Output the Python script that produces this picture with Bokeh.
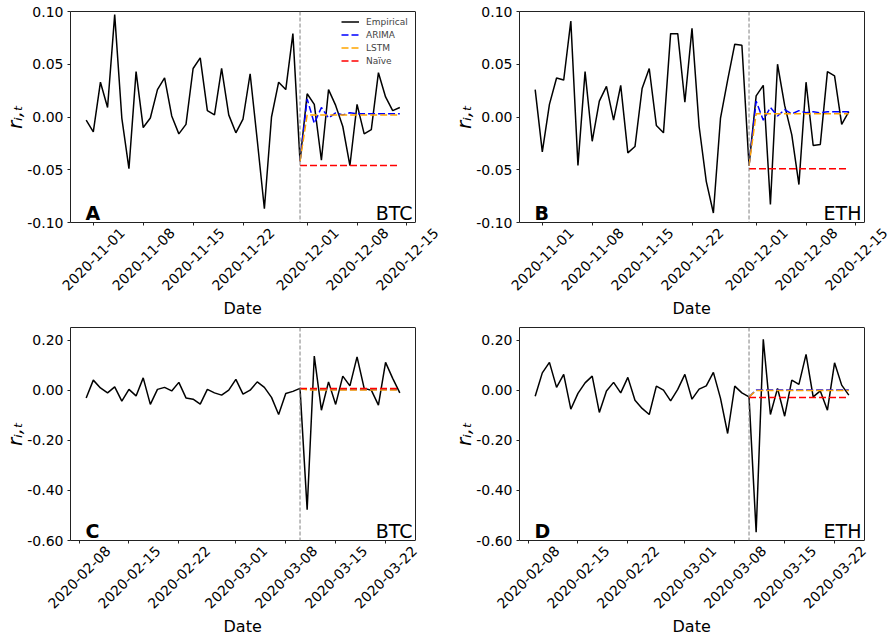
import math
import pandas as pd
from bokeh.plotting import figure
from bokeh.models import (FixedTicker, NumeralTickFormatter, DatetimeTickFormatter, Span,
                          Label, Range1d, DatetimeAxis, Title)
from bokeh.layouts import column, row
from bokeh.embed import file_html
from bokeh.resources import INLINE

FONT = "DejaVu Sans"
EDGE = "#222222"

# ---------------- data ----------------
ab_start, ab_split, ab_end = "2020-10-31", "2020-11-30", "2020-12-14"
cd_start, cd_split, cd_end = "2020-02-09", "2020-03-10", "2020-03-24"

ab_ticks = ["2020-11-01", "2020-11-08", "2020-11-15", "2020-11-22",
            "2020-12-01", "2020-12-08", "2020-12-15"]
cd_ticks = ["2020-02-08", "2020-02-15", "2020-02-22", "2020-03-01",
            "2020-03-08", "2020-03-15", "2020-03-22"]

ab_yticks = [-0.10, -0.05, 0.00, 0.05, 0.10]
cd_yticks = [-0.60, -0.40, -0.20, 0.00, 0.20]

btc_nov = [-0.003, -0.014, 0.033, 0.009, 0.097, -0.001, -0.049, 0.043, -0.010, -0.001,
           0.026, 0.037, 0.001, -0.016, -0.007, 0.046, 0.056, 0.006, 0.002, 0.046,
           0.002, -0.015, -0.002, 0.041, -0.022, -0.087, 0.000, 0.033, 0.026, 0.079,
           -0.042,
           0.022, 0.012, -0.041, 0.026, 0.011, -0.009, -0.046, 0.012, -0.016, -0.012,
           0.042, 0.019, 0.006, 0.009]
btc_nov_arima = [-0.042, 0.017, -0.006, 0.009, -0.001, 0.004, 0.002, 0.004, 0.003, 0.003,
                 0.003, 0.003, 0.003, 0.003, 0.003]
btc_nov_lstm = [-0.042, 0.002, 0.002, 0.002, 0.002, 0.002, 0.002, 0.002, 0.002, 0.002,
                0.002, 0.002, 0.002, 0.002, 0.002]
btc_nov_naive = [-0.046, -0.046, -0.046, -0.046, -0.046, -0.046, -0.046, -0.046, -0.046,
                 -0.046, -0.046, -0.046, -0.046, -0.046, -0.046]

eth_nov = [0.026, -0.033, 0.012, 0.037, 0.035, 0.091, -0.046, 0.043, -0.023, 0.015,
           0.029, -0.003, 0.030, -0.034, -0.028, 0.027, 0.046, -0.008, -0.015, 0.079,
           0.079, 0.014, 0.084, -0.009, -0.061, -0.091, -0.001, 0.035, 0.069, 0.068,
           -0.046,
           0.020, 0.030, -0.083, 0.050, 0.011, -0.017, -0.064, 0.033, -0.027, -0.026,
           0.043, 0.039, -0.007, 0.005]
eth_nov_arima = [-0.046, 0.015, -0.003, 0.009, 0.001, 0.007, 0.003, 0.006, 0.004, 0.005,
                 0.004, 0.005, 0.005, 0.005, 0.005]
eth_nov_lstm = [-0.046, 0.003, 0.003, 0.003, 0.003, 0.003, 0.003, 0.003, 0.003, 0.003,
                0.003, 0.003, 0.003, 0.003, 0.003]
eth_nov_naive = [-0.049, -0.049, -0.049, -0.049, -0.049, -0.049, -0.049, -0.049, -0.049,
                 -0.049, -0.049, -0.049, -0.049, -0.049, -0.049]

btc_mar = [-0.031, 0.040, 0.009, -0.011, 0.013, -0.044, 0.003, -0.023, 0.049, -0.057,
           0.003, 0.011, -0.003, 0.031, -0.031, -0.036, -0.056, 0.003, -0.011, -0.020,
           0.000, 0.043, -0.016, 0.000, 0.033, 0.011, -0.029, -0.097, -0.013, -0.005,
           0.007,
           -0.477, 0.136, -0.080, 0.033, -0.057, 0.056, 0.017, 0.133, 0.007, 0.000,
           -0.060, 0.111, 0.047, -0.011]
btc_mar_arima = [0.007, 0.003, 0.003, 0.003, 0.003, 0.003, 0.003, 0.003, 0.003, 0.003,
                 0.003, 0.003, 0.003, 0.003, 0.003]
btc_mar_lstm = [0.007, 0.001, 0.001, 0.001, 0.001, 0.001, 0.001, 0.001, 0.001, 0.001,
                0.001, 0.001, 0.001, 0.001, 0.001]
btc_mar_naive = [0.007, 0.007, 0.007, 0.007, 0.007, 0.007, 0.007, 0.007, 0.007, 0.007,
                 0.007, 0.007, 0.007, 0.007, 0.007]

eth_mar = [-0.024, 0.069, 0.111, 0.011, 0.063, -0.076, -0.013, 0.029, 0.056, -0.089,
           -0.003, 0.031, -0.011, 0.051, -0.040, -0.073, -0.097, 0.016, 0.000, -0.043,
           0.003, 0.063, -0.036, 0.004, 0.017, 0.071, -0.033, -0.173, 0.016, -0.011,
           -0.027,
           -0.567, 0.203, -0.097, 0.007, -0.104, 0.040, 0.023, 0.143, -0.027, -0.003,
           -0.080, 0.109, 0.020, -0.020]
eth_mar_arima = [-0.027, 0.001, 0.001, 0.001, 0.001, 0.001, 0.001, 0.001, 0.001, 0.001,
                 0.001, 0.001, 0.001, 0.001, 0.001]
eth_mar_lstm = [-0.027, -0.001, -0.001, -0.001, -0.001, -0.001, -0.001, -0.001, -0.001,
                -0.001, -0.001, -0.001, -0.001, -0.001, -0.001]
eth_mar_naive = [-0.029, -0.029, -0.029, -0.029, -0.029, -0.029, -0.029, -0.029, -0.029,
                 -0.029, -0.029, -0.029, -0.029, -0.029, -0.029]

series_names = ["Empirical", "ARIMA", "LSTM", "Naïve"]
series_colors = ["black", "blue", "orange", "red"]

BOX_W = 345        # width of the drawn axes box (px)
LABEL_SHIFT = 29   # right-anchored rotated labels -> centred under their ticks
DATE_TITLE_OFFSET = 153   # "Date" centred under the box
DATE_FMT = "%Y-%m-%d"


def ms(s):
    return pd.Timestamp(s).value // 10**6


def hidden_labels(ax):
    ax.major_label_text_font_size = "0px"
    ax.major_label_text_alpha = 0
    ax.major_label_standoff = 0


def panel(start, split, end, emp, arima, lstm, naive, ticks, yticks, yr,
          letter, coin, legend, width, height, bl, bt, bb):
    dates = pd.date_range(start, end, freq="D")
    fdates = pd.date_range(split, end, freq="D")
    s, e = ms(start), ms(end)
    pad = 0.05 * (e - s)
    x0, x1 = s - pad, e + pad                 # limits of the drawn box
    mpp = (x1 - x0) / BOX_W                   # ms per pixel
    fw = width - bl                           # frame runs to the right edge
    tick_ms = [ms(t) for t in ticks]

    p = figure(width=width, height=height, x_axis_type="datetime",
               x_range=Range1d(x0, x0 + fw * mpp), y_range=Range1d(*yr),
               output_backend="svg", toolbar_location=None,
               min_border_left=bl, min_border_right=0,
               min_border_top=bt, min_border_bottom=bb,
               background_fill_color="white", border_fill_color="white")
    p.extra_x_ranges = {"lab": Range1d(x0 - LABEL_SHIFT * mpp,
                                       x0 - LABEL_SHIFT * mpp + fw * mpp)}
    p.xgrid.visible = False
    p.ygrid.visible = False
    p.outline_line_color = None

    def lg(i):
        return {"legend_label": series_names[i]} if legend else {}

    p.line(dates, emp, color=series_colors[0], line_width=1.5, **lg(0))
    p.line(fdates, arima, color=series_colors[1], line_width=1.5, line_dash="7 3", **lg(1))
    p.line(fdates, lstm, color=series_colors[2], line_width=1.5, line_dash="7 3", **lg(2))
    p.line(fdates, naive, color=series_colors[3], line_width=1.5, line_dash="7 3", **lg(3))

    p.add_layout(Span(location=ms(split), dimension="height", line_color="gray",
                      line_dash="4 2", line_width=1))
    # right edge of the axes box
    p.add_layout(Span(location=x1, dimension="height", line_color=EDGE, line_width=1))

    p.add_layout(Label(x=x0, x_offset=15, y=10, y_units="screen", text=letter,
                       text_font=FONT, text_font_style="bold", text_font_size="19px",
                       text_color="black", text_baseline="alphabetic", text_align="left"))
    p.add_layout(Label(x=x1, x_offset=-3, y=10, y_units="screen", text=coin,
                       text_font=FONT, text_font_size="19px", text_color="black",
                       text_baseline="alphabetic", text_align="right"))

    # bottom axis 1: box edge + tick marks
    ax1 = p.xaxis[0]
    ax1.bounds = (x0, x1)
    ax1.ticker = FixedTicker(ticks=tick_ms)
    ax1.axis_line_color = EDGE
    ax1.major_tick_line_color = EDGE
    ax1.major_tick_out = 3
    ax1.major_tick_in = 0
    ax1.minor_tick_out = 0
    ax1.minor_tick_in = 0
    hidden_labels(ax1)

    # bottom axis 2: rotated date labels, centred under the ticks
    ax2 = DatetimeAxis(x_range_name="lab", ticker=FixedTicker(ticks=tick_ms),
                       formatter=DatetimeTickFormatter(days=DATE_FMT, months=DATE_FMT,
                                                       years=DATE_FMT, hours=DATE_FMT,
                                                       minutes=DATE_FMT, seconds=DATE_FMT,
                                                       milliseconds=DATE_FMT))
    ax2.major_label_orientation = math.pi / 4
    ax2.major_label_text_font = FONT
    ax2.major_label_text_font_size = "14px"
    ax2.major_label_text_color = "black"
    ax2.major_label_standoff = 5
    ax2.axis_line_color = None
    ax2.major_tick_line_color = None
    ax2.minor_tick_line_color = None
    ax2.major_tick_out = 0
    ax2.major_tick_in = 0
    ax2.minor_tick_out = 0
    ax2.minor_tick_in = 0
    p.add_layout(ax2, "below")

    # x-axis title "Date", centred under the box
    p.add_layout(Title(text="Date", align="left", offset=DATE_TITLE_OFFSET,
                       vertical_align="top", standoff=0,
                       text_font=FONT, text_font_size="16px", text_font_style="normal",
                       text_color="black"), "below")

    # top edge of the axes box
    axt = DatetimeAxis(ticker=FixedTicker(ticks=[]), bounds=(x0, x1))
    axt.axis_line_color = EDGE
    axt.major_tick_line_color = None
    axt.minor_tick_line_color = None
    axt.major_tick_out = 0
    axt.minor_tick_out = 0
    hidden_labels(axt)
    p.add_layout(axt, "above")

    # y axis (also the left edge of the box)
    p.yaxis.ticker = FixedTicker(ticks=yticks)
    p.yaxis.formatter = NumeralTickFormatter(format="0.00")
    p.yaxis.major_label_text_font = FONT
    p.yaxis.major_label_text_font_size = "14px"
    p.yaxis.major_label_text_color = "black"
    p.yaxis.major_label_standoff = 4
    p.yaxis.axis_line_color = EDGE
    p.yaxis.major_tick_line_color = EDGE
    p.yaxis.major_tick_out = 3
    p.yaxis.major_tick_in = 0
    p.yaxis.minor_tick_out = 0
    p.yaxis.minor_tick_in = 0
    p.yaxis.axis_label = "rᵢ,ₜ"
    p.yaxis.axis_label_text_font = FONT
    p.yaxis.axis_label_text_color = "black"
    p.yaxis.axis_label_text_font_size = "20px"
    p.yaxis.axis_label_text_font_style = "italic"
    p.yaxis.axis_label_standoff = -3

    if legend:
        lgd = p.legend[0]
        frame_h = height - bt - bb
        lgd.location = (266, frame_h - 62)
        lgd.label_text_font = FONT
        lgd.label_text_font_size = "9px"
        lgd.glyph_width = 18
        lgd.glyph_height = 13
        lgd.label_height = 13
        lgd.label_width = 46
        lgd.label_standoff = 7
        lgd.spacing = 0
        lgd.padding = 5
        lgd.margin = 0
        lgd.border_line_alpha = 0
        lgd.background_fill_alpha = 0
    return p


pA = panel(ab_start, ab_split, ab_end, btc_nov, btc_nov_arima, btc_nov_lstm, btc_nov_naive,
           ab_ticks, ab_yticks, (-0.10, 0.10), "A", "BTC", True, 445, 319, 70, 11, 96)
pB = panel(ab_start, ab_split, ab_end, eth_nov, eth_nov_arima, eth_nov_lstm, eth_nov_naive,
           ab_ticks, ab_yticks, (-0.10, 0.10), "B", "ETH", False, 448, 319, 74, 11, 96)
pC = panel(cd_start, cd_split, cd_end, btc_mar, btc_mar_arima, btc_mar_lstm, btc_mar_naive,
           cd_ticks, cd_yticks, (-0.60, 0.25), "C", "BTC", False, 445, 319, 70, 8, 98)
pD = panel(cd_start, cd_split, cd_end, eth_mar, eth_mar_arima, eth_mar_lstm, eth_mar_naive,
           cd_ticks, cd_yticks, (-0.60, 0.25), "D", "ETH", False, 448, 319, 74, 8, 98)

layout = column(row(pA, pB), row(pC, pD))
open("out.html", "w").write(file_html(layout, INLINE))
